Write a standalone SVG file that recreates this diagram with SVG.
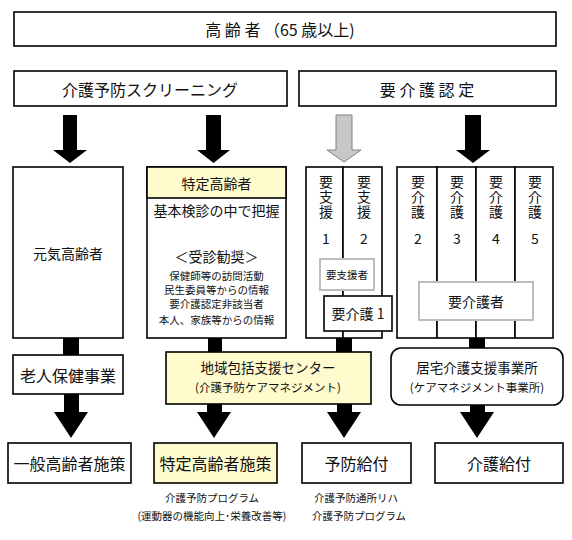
<svg xmlns="http://www.w3.org/2000/svg" width="572" height="540" viewBox="0 0 572 540">
<style>
text{font-family:"Noto Sans CJK JP","Liberation Sans",sans-serif;fill:#111;text-anchor:middle;dominant-baseline:central}
text.v{writing-mode:vertical-rl;text-anchor:start;letter-spacing:1px}
.box{fill:#fff;stroke:#000;stroke-width:1.6}
.yel{fill:#fffbcc;stroke:#000;stroke-width:1.6}
.grey{fill:#fff;stroke:#bdbdbd;stroke-width:2}
.arr{fill:#000}
.garr{fill:#c8c8c8;stroke:#808080;stroke-width:1}
.t16{font-size:16px}
.t15{font-size:15px}
.t14{font-size:14px}
.t13{font-size:13.5px}
.t12{font-size:11.5px}
.t10{font-size:10.5px}
</style>
<rect width="572" height="540" fill="#fff"/>

<g id="connectors">
  <polygon class="arr" points="63,115 77,115 77,150 87,150 70,163 53,150 63,150"/>
  <polygon class="arr" points="206,115 221,115 221,150 230,150 213.5,163 197,150 206,150"/>
  <polygon class="garr" points="336,115 352,115 352,150 361,150 344,162 327,150 336,150"/>
  <polygon class="arr" points="465,115 481,115 481,150 490,150 473,163 456,150 465,150"/>
  <rect class="arr" x="63" y="338" width="16" height="18"/>
  <rect class="arr" x="208" y="338" width="14" height="14"/>
  <rect class="arr" x="336" y="331" width="16" height="21"/>
  <rect class="arr" x="469" y="338" width="16" height="11"/>
  <polygon class="arr" points="64,394 79,394 79,412 88,412 71,438 54,412 64,412"/>
  <polygon class="arr" points="207,404 222,404 222,412 231,412 214,438 197,412 207,412"/>
  <polygon class="arr" points="337,404 352,404 352,412 361,412 344,438 327,412 337,412"/>
  <polygon class="arr" points="470,405 485,405 485,412 494,412 477,438 460,412 470,412"/>
</g>

<g id="elderly">
  <rect class="box" x="14" y="12" width="542" height="34"/>
  <text class="t16" x="280" y="29">高 齢 者 （65 歳以上)</text>
</g>

<g id="screening">
  <rect class="box" x="14" y="71" width="273" height="35"/>
  <text class="t16" x="150" y="89">介護予防スクリーニング</text>
</g>

<g id="nintei">
  <rect class="box" x="299" y="71" width="257" height="35"/>
  <text class="t16" x="427" y="89">要 介 護 認 定</text>
</g>

<g id="genki">
  <rect class="box" x="13" y="167" width="110" height="171"/>
  <text class="t14" x="68" y="253">元気高齢者</text>
</g>

<g id="tokutei">
  <rect class="box" x="147" y="167" width="139" height="171"/>
  <rect class="yel" x="147" y="167" width="139" height="31"/>
  <text class="t14" x="216.5" y="183">特定高齢者</text>
  <text class="t14" x="216.5" y="210">基本検診の中で把握</text>
  <text class="t14" x="216.5" y="256">＜受診勧奨＞</text>
  <text class="t10" x="216.5" y="275">保健師等の訪問活動</text>
  <text class="t10" x="216.5" y="289">民生委員等からの情報</text>
  <text class="t10" x="216.5" y="303">要介護認定非該当者</text>
  <text class="t10" x="216.5" y="319">本人、家族等からの情報</text>
</g>

<g id="yoshien">
  <rect class="box" x="306" y="167" width="37" height="171"/>
  <rect class="box" x="343" y="167" width="39" height="171"/>
  <text class="t14 v" x="326" y="175">要支援</text>
  <text class="t14 v" x="364" y="175">要支援</text>
  <text class="t14" x="326" y="238">1</text>
  <text class="t14" x="364" y="238">2</text>
</g>

<g id="yoshiensha">
  <rect class="grey" x="320" y="259" width="54" height="31"/>
  <text class="t10" x="347" y="274">要支援者</text>
</g>

<g id="yokaigo1">
  <rect class="box" x="324" y="296" width="68" height="35"/>
  <text class="t14" x="358" y="313">要介護 1</text>
</g>

<g id="yokaigo">
  <rect class="box" x="397" y="167" width="40" height="171"/>
  <rect class="box" x="437" y="167" width="39" height="171"/>
  <rect class="box" x="476" y="167" width="39" height="171"/>
  <rect class="box" x="515" y="167" width="38" height="171"/>
  <text class="t14 v" x="418" y="175">要介護</text>
  <text class="t14 v" x="457" y="175">要介護</text>
  <text class="t14 v" x="496" y="175">要介護</text>
  <text class="t14 v" x="535" y="175">要介護</text>
  <text class="t14" x="418" y="238">2</text>
  <text class="t14" x="457" y="238">3</text>
  <text class="t14" x="496" y="238">4</text>
  <text class="t14" x="535" y="238">5</text>
</g>

<g id="yokaigosha">
  <rect class="grey" x="419" y="282" width="114" height="38"/>
  <text class="t14" x="476" y="301">要介護者</text>
</g>

<g id="roujin">
  <rect class="box" x="13" y="355" width="110" height="39"/>
  <text class="t16" x="68" y="374.5">老人保健事業</text>
</g>

<g id="chiiki">
  <rect class="yel" x="166" y="352" width="205" height="52"/>
  <text class="t13" x="268" y="367">地域包括支援センター</text>
  <text class="t12" x="268" y="387">(介護予防ケアマネジメント)</text>
</g>

<g id="kyotaku">
  <rect class="box" x="391" y="348" width="172" height="57" rx="10"/>
  <text class="t13" x="477" y="367">居宅介護支援事業所</text>
  <text class="t12" x="477" y="387">(ケアマネジメント事業所)</text>
</g>

<g id="ippan">
  <rect class="box" x="8" y="443" width="123" height="40"/>
  <text class="t16" x="69.5" y="463">一般高齢者施策</text>
</g>

<g id="tokuteisesaku">
  <rect class="yel" x="154" y="443" width="123" height="40"/>
  <text class="t16" x="215.5" y="463">特定高齢者施策</text>
  <text class="t10" x="212" y="497">介護予防プログラム</text>
  <text class="t10" x="212" y="515">(運動器の機能向上･栄養改善等)</text>
</g>

<g id="yobou">
  <rect class="box" x="302" y="443" width="109" height="40"/>
  <text class="t16" x="356.5" y="463">予防給付</text>
  <text class="t10" x="356" y="497">介護予防通所リハ</text>
  <text class="t10" x="359" y="515">介護予防プログラム</text>
</g>

<g id="kaigo">
  <rect class="box" x="435" y="443" width="128" height="40"/>
  <text class="t16" x="499" y="463">介護給付</text>
</g>
</svg>
